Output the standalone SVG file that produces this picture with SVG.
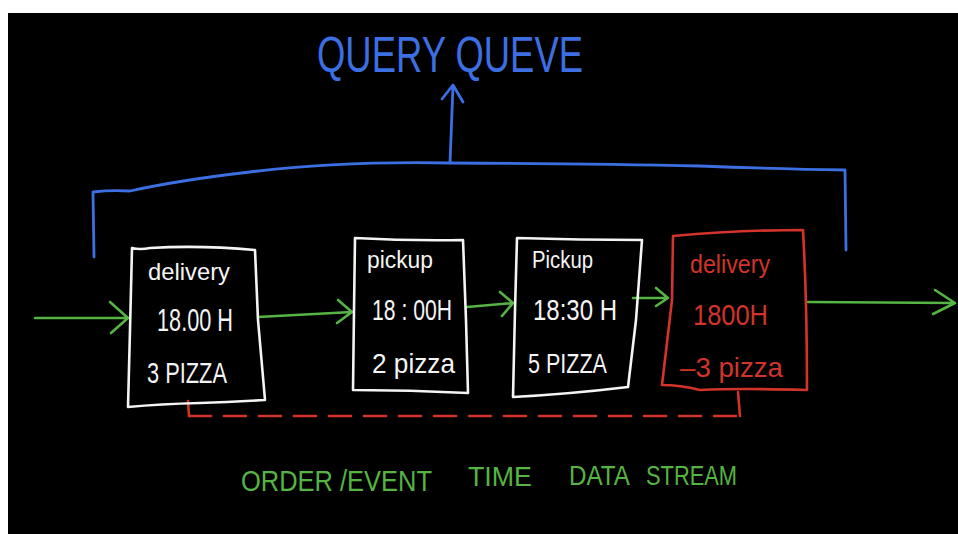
<svg xmlns="http://www.w3.org/2000/svg" width="958" height="534" viewBox="0 0 958 534">
<defs>
<style>
.bg{fill:#000}
.box{fill:none;stroke:#f4f4f4;stroke-width:2.6;stroke-linejoin:round;stroke-linecap:round}
.rbox{fill:none;stroke:#d2332b;stroke-width:2.6;stroke-linejoin:round;stroke-linecap:round}
.t{font-family:"Liberation Sans","DejaVu Sans",sans-serif;fill:#f4f4f4}
.rt{font-family:"Liberation Sans","DejaVu Sans",sans-serif;fill:#d2332b}
.g{fill:none;stroke:#55b443;stroke-width:2.6;stroke-linecap:round;stroke-linejoin:round}
.b{fill:none;stroke:#3c6fe2;stroke-width:2.8;stroke-linecap:round;stroke-linejoin:round}
.r{fill:none;stroke:#d2332b;stroke-width:2.6;stroke-linecap:round}
.bt{font-family:"Liberation Sans","DejaVu Sans",sans-serif;fill:#3c6fe2}
.gt{font-family:"Liberation Sans","DejaVu Sans",sans-serif;fill:#55b443}
</style>
</defs>
<rect x="0" y="0" width="958" height="534" fill="#fff"/>
<rect class="bg" x="8" y="13" width="950" height="521"/>

<g id="title">
<text class="bt" x="317" y="72" font-size="50" textLength="266" lengthAdjust="spacingAndGlyphs">QUERY QUEVE</text>
</g>

<g id="connectors">
<path class="b" d="M94,257 L93,192 Q110,190 130,191 Q180,180 250,172 Q340,161 450,163 Q600,164 700,166 Q780,169 845,170 L846,250"/>
<path class="b" d="M450,163 L453,86 M442,99 L453,85 L463,102"/>
<path class="g" d="M35,318 L128,318 M110,302 L128,318 L111,333"/>
<path class="g" d="M258,317 L352,312 M338,300 L352,312 L337,323"/>
<path class="g" d="M467,307 L513,303 M500,292 L513,303 L502,316"/>
<path class="g" d="M633,298 L668,298 M656,288 L668,298 L656,306"/>
<path class="g" d="M808,302 L955,303 M935,290 L955,303 L933,314"/>
<path class="r" d="M188,401 L189,416"/>
<path class="r" d="M189,416 L738,416" stroke-dasharray="22 13"/>
<path class="r" d="M738,392 L740,416"/>
</g>

<g id="node1">
<path class="box" d="M132,248 Q140,250 150,248 Q200,245 255,250 L258,320 L265,400 Q230,402 200,403 Q160,404 128,407 L130,330 Z"/>
<text class="t" x="148" y="280" font-size="24" textLength="82" lengthAdjust="spacingAndGlyphs">delivery</text>
<text class="t" x="157" y="331" font-size="31" textLength="76" lengthAdjust="spacingAndGlyphs">18.00 H</text>
<text class="t" x="147" y="383" font-size="30" textLength="80" lengthAdjust="spacingAndGlyphs">3 PIZZA</text>
</g>

<g id="node2">
<path class="box" d="M355,238 Q410,241 463,240 L466,320 L468,393 Q410,390 353,390 L354,310 Z"/>
<text class="t" x="367" y="268" font-size="23" textLength="66" lengthAdjust="spacingAndGlyphs">pickup</text>
<text class="t" x="372" y="320" font-size="30" textLength="80" lengthAdjust="spacingAndGlyphs">18 : 00H</text>
<text class="t" x="372" y="373" font-size="28" textLength="83" lengthAdjust="spacingAndGlyphs">2 pizza</text>
</g>

<g id="node3">
<path class="box" d="M517,238 Q580,240 642,240 L636,320 L628,387 Q570,394 513,397 L515,310 Z"/>
<text class="t" x="532" y="268" font-size="23" textLength="61" lengthAdjust="spacingAndGlyphs">Pickup</text>
<text class="t" x="533" y="320" font-size="30" textLength="84" lengthAdjust="spacingAndGlyphs">18:30 H</text>
<text class="t" x="528" y="373" font-size="28" textLength="79" lengthAdjust="spacingAndGlyphs">5 PIZZA</text>
</g>

<g id="node4">
<path class="rbox" d="M673,236 Q740,230 803,230 Q807,300 807,390 Q740,388 700,390 Q680,385 662,385 L672,300 Z"/>
<text class="rt" x="690" y="273" font-size="26" textLength="80" lengthAdjust="spacingAndGlyphs">delivery</text>
<text class="rt" x="693" y="325" font-size="30" textLength="75" lengthAdjust="spacingAndGlyphs">1800H</text>
<text class="rt" x="680" y="377" font-size="28" textLength="103" lengthAdjust="spacingAndGlyphs">–3 pizza</text>
</g>

<g id="caption">
<text class="gt" x="241" y="491" font-size="29" textLength="191" lengthAdjust="spacingAndGlyphs">ORDER /EVENT</text>
<text class="gt" x="468" y="486" font-size="28" textLength="64" lengthAdjust="spacingAndGlyphs">TIME</text>
<text class="gt" x="569" y="485" font-size="28" textLength="61" lengthAdjust="spacingAndGlyphs">DATA</text>
<text class="gt" x="646" y="485" font-size="28" textLength="91" lengthAdjust="spacingAndGlyphs">STREAM</text>
</g>
</svg>
